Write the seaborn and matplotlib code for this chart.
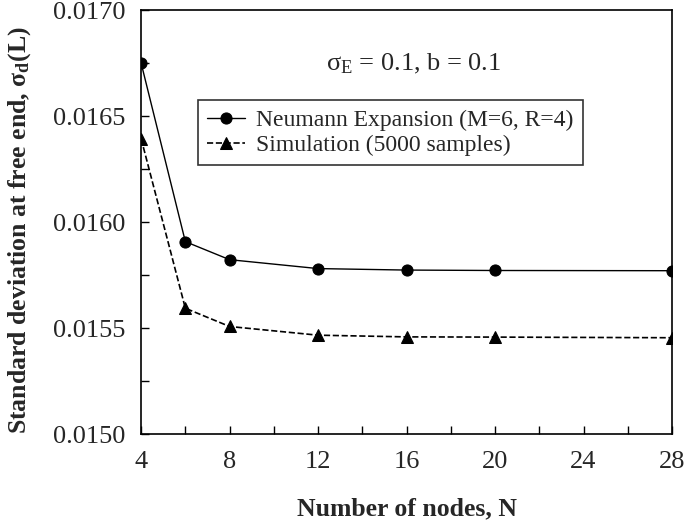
import matplotlib
matplotlib.use('Agg')
import pandas as pd
import seaborn as sns
import matplotlib.pyplot as plt
from matplotlib.ticker import MultipleLocator, FormatStrFormatter

# values
nodes = [4, 6, 8, 12, 16, 20, 28]
neumann = [0.01675, 0.015908, 0.015823, 0.015781, 0.015774, 0.015772, 0.015771]
simulation = [0.016394, 0.015594, 0.015508, 0.015467, 0.015459, 0.015458, 0.015455]

df = pd.DataFrame({"N": nodes, "neumann": neumann, "sim": simulation})

sns.set_style("ticks")
plt.rcParams['font.family'] = ['Liberation Serif', 'DejaVu Serif']
plt.rcParams['mathtext.fontset'] = 'custom'
plt.rcParams['mathtext.rm'] = 'Liberation Serif'
plt.rcParams['mathtext.it'] = 'Liberation Serif:italic'
plt.rcParams['mathtext.bf'] = 'Liberation Serif:bold'

fig = plt.figure(figsize=(6.85, 5.27), dpi=100)
ax = fig.add_axes([0.206, 0.176, 0.775, 0.805])

sns.lineplot(data=df, x="N", y="neumann", ax=ax, color="black", lw=1.0,
             marker="o", markersize=8, markeredgecolor="black",
             label="Neumann Expansion (M=6, R=4)")
sns.lineplot(data=df, x="N", y="sim", ax=ax, color="black", lw=1.2,
             linestyle="--", marker="^", markersize=8, markeredgecolor="black",
             label="Simulation (5000 samples)")

ax.set_xlim(4, 28)
ax.set_ylim(0.0150, 0.0170)
ax.xaxis.set_major_locator(MultipleLocator(4))
ax.xaxis.set_minor_locator(MultipleLocator(2))
ax.yaxis.set_major_locator(MultipleLocator(0.0005))
ax.yaxis.set_minor_locator(MultipleLocator(0.00025))
ax.yaxis.set_major_formatter(FormatStrFormatter("%.4f"))
ax.tick_params(which="both", direction="in", top=False, right=False,
               labelsize=19, color="black", width=1, length=6)
ax.tick_params(axis="y", pad=11)
ax.tick_params(axis="x", pad=12)
for s in ax.spines.values():
    s.set_color("black")
    s.set_linewidth(1.2)

ax.set_xlabel("Number of nodes, N", fontsize=18.5, fontweight="bold")
ax.xaxis.set_label_coords(0.5, -0.148)
ax.set_ylabel(r"Standard deviation at free end, σ$_\mathbf{d}$(L)",
              fontsize=18.5, fontweight="bold")
ax.yaxis.set_label_coords(-0.203, 0.48)

ax.text(0.513, 0.872, r"σ$_\mathrm{E}$ = 0.1, b = 0.1", transform=ax.transAxes,
        ha="center", va="center", fontsize=19)

leg = ax.legend(loc="upper left", bbox_to_anchor=(0.107, 0.788), borderaxespad=0,
                fontsize=17, frameon=True, fancybox=False, edgecolor="black",
                handlelength=1.6, handletextpad=0.45, borderpad=0.4,
                labelspacing=0.15)
leg.get_frame().set_linewidth(1.2)

fig.savefig("out.png", dpi=100)
